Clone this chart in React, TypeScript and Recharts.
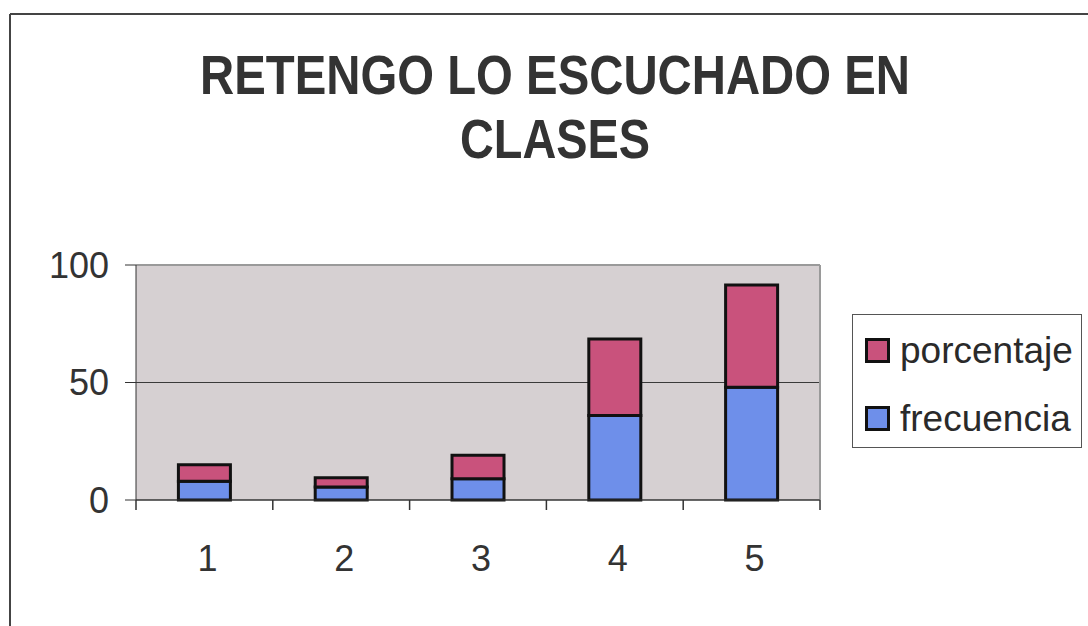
import { BarChart, Bar, XAxis, YAxis, CartesianGrid, Legend, ReferenceLine } from "recharts";

// survey answers 1..5, stacked frequency + percentage
const categories = ["1", "2", "3", "4", "5"];
const frecuencia = [8, 5.5, 9, 36, 48];
const porcentaje = [7, 4, 10, 32.5, 43.5];
const yTicks = [0, 50, 100];

const titleLines = ["RETENGO LO ESCUCHADO EN", "CLASES"];

const data = categories.map((name, i) => ({
  name,
  frecuencia: frecuencia[i],
  porcentaje: porcentaje[i],
}));

const FONT = "'Liberation Sans', Arial, sans-serif";
const INK = "#333";
const X_LABEL_GAP = 45;
const X_TICK_LEN = 10;

function LegendBox({ payload }: any) {
  const items = [...(payload ?? [])].reverse();
  return (
    <div
      style={{
        width: 230,
        height: 134,
        boxSizing: "border-box",
        border: "1.5px solid #555",
        background: "#fff",
        paddingTop: 1,
        fontFamily: FONT,
      }}
    >
      {items.map((it: any) => (
        <div
          key={it.value}
          style={{ height: 68, display: "flex", alignItems: "center", paddingLeft: 12 }}
        >
          <span
            style={{
              width: 25,
              height: 25,
              boxSizing: "border-box",
              border: "3px solid #111",
              background: it.color,
              marginRight: 10,
            }}
          />
          <span style={{ fontSize: 37, color: "#2a2a2a", lineHeight: 1 }}>{it.value}</span>
        </div>
      ))}
    </div>
  );
}

// category label at the centre, tick marks at the band edges
function CatTick({ x, y, payload, index }: any) {
  const half = payload?.offset ?? 0;
  const axisY = y - X_LABEL_GAP;
  const last = index === categories.length - 1;
  return (
    <g>
      <line x1={x - half} y1={axisY} x2={x - half} y2={axisY + X_TICK_LEN} stroke={INK} strokeWidth={1.5} />
      {last && (
        <line x1={x + half} y1={axisY} x2={x + half} y2={axisY + X_TICK_LEN} stroke={INK} strokeWidth={1.5} />
      )}
      <text x={x + 3} y={y} dy="0.71em" textAnchor="middle" fontSize={36} fill={INK} fontFamily={FONT}>
        {payload.value}
      </text>
    </g>
  );
}

export default function App() {
  return (
    <div style={{ position: "absolute", left: 0, top: 0, width: 1088, height: 626, background: "#fff" }}>
      <svg width={1088} height={626} style={{ position: "absolute", left: 0, top: 0 }}>
        <line x1={10} y1={14} x2={1088} y2={14} stroke="#444" strokeWidth={2} />
        <line x1={10} y1={14} x2={10} y2={626} stroke="#444" strokeWidth={2} />
        <text
          x={555}
          y={94}
          textAnchor="middle"
          fontFamily={FONT}
          fontWeight="bold"
          fontSize={56}
          fill="#333"
          textLength={710}
          lengthAdjust="spacingAndGlyphs"
        >
          {titleLines[0]}
        </text>
        <text
          x={555}
          y={158}
          textAnchor="middle"
          fontFamily={FONT}
          fontWeight="bold"
          fontSize={56}
          fill="#333"
          textLength={190}
          lengthAdjust="spacingAndGlyphs"
        >
          {titleLines[1]}
        </text>
      </svg>
      <div style={{ position: "absolute", left: 0, top: 0 }}>
        <BarChart
          width={1088}
          height={626}
          data={data}
          margin={{ top: 265, right: 268, bottom: 60, left: 0 }}
          barCategoryGap="31%"
          style={{ fontFamily: FONT }}
        >
          <CartesianGrid vertical={false} fill="#d6d0d2" fillOpacity={1} stroke="#3a3a3a" />
          <CartesianGrid
            horizontal={false}
            stroke="#9a9a9a"
            strokeWidth={2}
            verticalCoordinatesGenerator={({ offset }: any) => [offset.left + offset.width]}
          />
          <XAxis
            dataKey="name"
            stroke={INK}
            tickLine={false}
            tickSize={0}
            tickMargin={X_LABEL_GAP}
            height={66}
            interval={0}
            tick={<CatTick />}
          />
          <YAxis
            domain={[0, 100]}
            ticks={yTicks}
            interval={0}
            width={136}
            tickSize={11}
            tickMargin={16}
            stroke={INK}
            tick={{ fontSize: 36, fill: INK, fontFamily: FONT }}
          />
          <ReferenceLine y={100} stroke="#9a9a9a" strokeWidth={2} />
          <Bar
            dataKey="frecuencia"
            stackId="a"
            fill="#6e8fea"
            stroke="#111"
            strokeWidth={3}
            isAnimationActive={false}
          />
          <Bar
            dataKey="porcentaje"
            stackId="a"
            fill="#c9527c"
            stroke="#111"
            strokeWidth={3}
            isAnimationActive={false}
          />
          <Legend
            layout="vertical"
            align="center"
            verticalAlign="middle"
            content={<LegendBox />}
            wrapperStyle={{ left: 852, top: 314, width: 230, height: 134 }}
          />
        </BarChart>
      </div>
    </div>
  );
}
